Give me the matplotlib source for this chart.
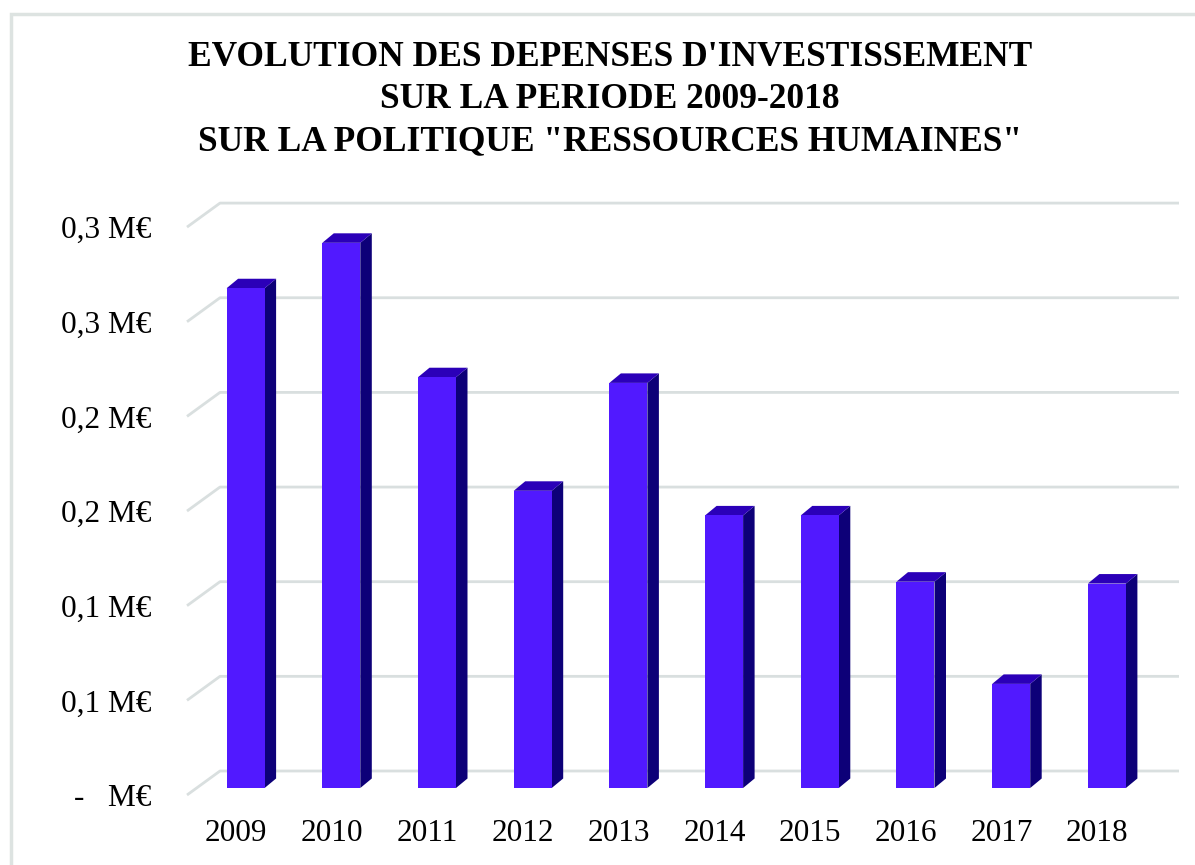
import matplotlib
matplotlib.use('Agg')
import matplotlib.pyplot as plt
from matplotlib.patches import Polygon, Rectangle

plt.rcParams['font.family'] = ['Liberation Serif', 'DejaVu Serif']

years = ['2009', '2010', '2011', '2012', '2013', '2014', '2015', '2016', '2017', '2018']
depenses = [0.264, 0.288, 0.217, 0.157, 0.214, 0.144, 0.144, 0.109, 0.055, 0.108]  # M€
yticks = [0, 0.05, 0.10, 0.15, 0.20, 0.25, 0.30]
ylabels = ['-   M€', '0,1 M€', '0,1 M€', '0,2 M€', '0,2 M€', '0,3 M€', '0,3 M€']
title_lines = ["EVOLUTION DES DEPENSES D'INVESTISSEMENT",
               "SUR LA PERIODE 2009-2018",
               'SUR LA POLITIQUE "RESSOURCES HUMAINES"']

W, H = 1195, 865
fig = plt.figure(figsize=(W / 100, H / 100), dpi=100)

# axes = front plane of the pseudo 3D chart (pixel layout)
left_px, right_px, bottom_px, top_px = 187, 1185, 795, 190
ax = fig.add_axes([left_px / W, 1 - bottom_px / H, (right_px - left_px) / W, (bottom_px - top_px) / H])
PX = 1 / 95.7   # x data per pixel
PY = 1 / 1893   # y data per pixel
ax.set_xlim((left_px - 236) * PX, (right_px - 236) * PX)
ax.set_ylim(0, (bottom_px - top_px) * PY)
for s in ax.spines.values():
    s.set_visible(False)

# back wall gridlines with slanted floor edge
grid_c = '#D9DFDF'
wx, wy = 33 * PX, 24 * PY
x0 = ax.get_xlim()[0]
x_end = (1179 - 236) * PX
for t in yticks:
    ax.plot([x0, x0 + wx, x_end], [t, t + wy, t + wy], color=grid_c, lw=2, zorder=0,
            solid_capstyle='butt', clip_on=False)

# bars: front face + side + top
bw = 38 * PX
ox, oy = 9.6 * PX, 7 * PY
dx, dy = 11.5 * PX, 9.5 * PY
front_c, side_c, top_c = '#5119FF', '#0D0078', '#2B00B8'
for i, v in enumerate(depenses):
    xl = i + ox - bw / 2
    xr = i + ox + bw / 2
    b = oy
    t = oy + v
    ax.add_patch(Polygon([(xr, b), (xr + dx, b + dy), (xr + dx, t + dy), (xr, t)],
                         closed=True, facecolor=side_c, edgecolor='none', zorder=2))
    ax.add_patch(Polygon([(xl, t), (xl + dx, t + dy), (xr + dx, t + dy), (xr, t)],
                         closed=True, facecolor=top_c, edgecolor='none', zorder=2))
ax.bar([i + ox for i in range(len(years))], depenses, width=bw, bottom=oy,
       color=front_c, edgecolor='none', zorder=3)

ax.set_yticks(yticks)
ax.set_yticklabels(ylabels, fontsize=22.5)
ax.set_xticks(range(len(years)))
ax.set_xticklabels(years, fontsize=22.5)
ax.tick_params(axis='y', length=0, pad=26)
ax.tick_params(axis='x', length=0, pad=17)
for lab in ax.get_yticklabels():
    lab.set_y(lab.get_position()[1])
    lab.set_verticalalignment('center_baseline')

for k, line in enumerate(title_lines):
    fig.text(610 / W, 1 - [57, 100, 142][k] / H, line, ha='center', va='center',
             fontsize=25.5, fontweight='bold')

# outer chart frame
fig.add_artist(Rectangle((11 / W, -0.1), 1.2, 1 - 14 / H + 0.1, transform=fig.transFigure,
                         fill=False, edgecolor='#DDE3E1', lw=2.5))

fig.savefig('out.png', dpi=100)
